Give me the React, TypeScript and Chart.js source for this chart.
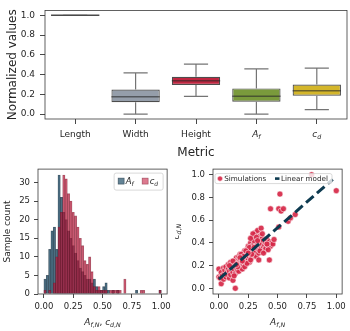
import React, { useEffect, useRef } from 'react';
import { Chart, registerables } from 'chart.js';

Chart.register(...registerables);

const FONT = '"DejaVu Sans", "Liberation Sans", Arial, sans-serif';
const TEXT = '#262626';
const FRAME = '#3a3a3a';

// ---------- Top panel: box plot of normalized metrics ----------
const METRICS = ['Length', 'Width', 'Height', 'A_f', 'c_d'];
const BOX_MIN = [1.0, 0.0, 0.18, 0.0, 0.045];
const BOX_Q1 = [1.0, 0.12, 0.295, 0.125, 0.185];
const BOX_MED = [1.0, 0.175, 0.338, 0.18, 0.237];
const BOX_Q3 = [1.0, 0.248, 0.378, 0.26, 0.3];
const BOX_MAX = [1.0, 0.418, 0.505, 0.458, 0.466];
const BOX_COLORS = ['#b5b5b5', '#959eaa', '#c02640', '#7a9a3c', '#d4b62a'];
const TOP_Y_TICKS = [0, 0.2, 0.4, 0.6, 0.8, 1.0];

// ---------- Bottom-left: histogram (bins of 0.02 from 0 to 1) ----------
const BIN_CENTERS = [
  0.01, 0.03, 0.05, 0.07, 0.09, 0.11, 0.13, 0.15, 0.17, 0.19,
  0.21, 0.23, 0.25, 0.27, 0.29, 0.31, 0.33, 0.35, 0.37, 0.39,
  0.41, 0.43, 0.45, 0.47, 0.49, 0.51, 0.53, 0.55, 0.57, 0.59,
  0.61, 0.63, 0.65, 0.67, 0.69, 0.71, 0.73, 0.75, 0.77, 0.79,
  0.81, 0.83, 0.85, 0.87, 0.89, 0.91, 0.93, 0.95, 0.97, 0.99,
];
const AF_COUNTS = [
  4, 5, 12, 17, 18, 12, 32, 26, 22, 20,
  17, 15, 13, 11, 9, 7, 6, 5, 4, 4,
  3, 4, 2, 1, 1, 2, 3, 1, 0, 1,
  0, 1, 0, 0, 0, 0, 0, 0, 0, 1,
  0, 0, 0, 0, 0, 0, 0, 0, 0, 1,
];
const CD_COUNTS = [
  1, 0, 1, 0, 3, 10, 18, 22, 32, 31,
  27, 25, 22, 21, 18, 15, 13, 9, 8, 10,
  6, 2, 1, 2, 1, 1, 1, 0, 1, 1,
  1, 1, 1, 0, 4, 0, 0, 0, 0, 0,
  0, 1, 1, 0, 0, 0, 0, 0, 0, 1,
];
const HIST_X_TICKS = [0, 0.25, 0.5, 0.75, 1.0];
const HIST_Y_TICKS = [0, 5, 10, 15, 20, 25, 30];

// ---------- Bottom-right: scatter + linear model ----------
const SIM_AF = [
  0.0, 0.0, 0.01, 0.02, 0.02, 0.03, 0.04, 0.04, 0.05, 0.05,
  0.06, 0.06, 0.07, 0.07, 0.08, 0.08, 0.09, 0.09, 0.1, 0.1,
  0.1, 0.11, 0.11, 0.12, 0.12, 0.12, 0.13, 0.13, 0.14, 0.14,
  0.14, 0.14, 0.15, 0.15, 0.15, 0.16, 0.16, 0.16, 0.17, 0.17,
  0.17, 0.18, 0.18, 0.18, 0.19, 0.19, 0.19, 0.2, 0.2, 0.2,
  0.21, 0.21, 0.21, 0.22, 0.22, 0.22, 0.23, 0.23, 0.23, 0.24,
  0.24, 0.24, 0.25, 0.25, 0.25, 0.26, 0.26, 0.26, 0.27, 0.27,
  0.27, 0.28, 0.28, 0.28, 0.29, 0.29, 0.29, 0.3, 0.3, 0.3,
  0.31, 0.31, 0.31, 0.32, 0.32, 0.32, 0.33, 0.33, 0.33, 0.34,
  0.34, 0.34, 0.35, 0.35, 0.36, 0.36, 0.36, 0.37, 0.37, 0.38,
  0.38, 0.39, 0.39, 0.4, 0.4, 0.41, 0.42, 0.43, 0.43, 0.44,
  0.44, 0.45, 0.46, 0.47, 0.51, 0.52, 0.51, 0.53, 0.55, 0.59,
  0.61, 0.65, 0.79, 1.0,
  0.13, 0.17, 0.19, 0.2, 0.22, 0.24, 0.25, 0.27, 0.28, 0.3,
  0.26, 0.23, 0.21, 0.18, 0.16, 0.12, 0.09, 0.35, 0.37, 0.29,
  0.27, 0.32, 0.38, 0.42, 0.41, 0.15, 0.2, 0.25, 0.3, 0.33,
];
const SIM_CD = [
  0.17, 0.1, 0.09, 0.04, 0.14, 0.11, 0.18, 0.08, 0.13, 0.16,
  0.1, 0.19, 0.14, 0.12, 0.17, 0.21, 0.09, 0.15, 0.12, 0.19,
  0.23, 0.16, 0.21, 0.14, 0.07, 0.19, 0.22, 0.17, 0.0, 0.25,
  0.13, 0.2, 0.18, 0.23, 0.27, 0.16, 0.21, 0.25, 0.19, 0.28,
  0.23, 0.21, 0.25, 0.3, 0.18, 0.24, 0.27, 0.22, 0.29, 0.26,
  0.2, 0.24, 0.31, 0.27, 0.23, 0.33, 0.29, 0.25, 0.21, 0.31,
  0.27, 0.34, 0.29, 0.25, 0.37, 0.32, 0.28, 0.23, 0.35, 0.3,
  0.4, 0.33, 0.27, 0.37, 0.31, 0.35, 0.45, 0.34, 0.29, 0.39,
  0.49, 0.36, 0.32, 0.41, 0.37, 0.28, 0.51, 0.35, 0.39, 0.43,
  0.31, 0.25, 0.38, 0.46, 0.53, 0.41, 0.35, 0.39, 0.44, 0.36,
  0.42, 0.38, 0.33, 0.4, 0.35, 0.43, 0.38, 0.25, 0.41, 0.7,
  0.37, 0.4, 0.39, 0.43, 0.54, 0.83, 0.7, 0.68, 0.7, 0.59,
  0.62, 0.65, 1.0, 0.86,
  0.11, 0.15, 0.3, 0.17, 0.19, 0.22, 0.33, 0.25, 0.3, 0.42,
  0.36, 0.33, 0.28, 0.27, 0.19, 0.24, 0.2, 0.33, 0.48, 0.48,
  0.44, 0.45, 0.31, 0.34, 0.39, 0.21, 0.24, 0.31, 0.36, 0.42,
];
const MODEL_X = [0.0, 0.97];
const MODEL_Y = [0.08, 0.96];
const SCATTER_TICKS_X = [0, 0.25, 0.5, 0.75, 1.0];
const SCATTER_TICKS_Y = [0, 0.2, 0.4, 0.6, 0.8, 1.0];

const BLUE_FILL = 'rgba(40,85,110,0.72)';
const BLUE_EDGE = 'rgba(20,40,55,0.7)';
const PINK_FILL = 'rgba(195,25,62,0.58)';
const PINK_EDGE = 'rgba(110,15,35,0.6)';
const DOT = 'rgba(214,40,72,0.92)';
const NAVY = '#0d3a50';

type Run = { t: string; it?: boolean; sub?: boolean };

function mathRuns(label: string): Run[] {
  if (label.indexOf('_') < 0) return [{ t: label }];
  const [b, s] = label.split('_');
  return [{ t: b, it: true }, { t: s, it: true, sub: true }];
}

function drawRich(
  ctx: CanvasRenderingContext2D,
  runs: Run[],
  x: number,
  y: number,
  size: number,
  align: 'left' | 'center',
  rotate = false,
  color = TEXT
) {
  ctx.save();
  ctx.translate(x, y);
  if (rotate) ctx.rotate(-Math.PI / 2);
  const items = runs.map((r) => {
    const s = r.sub ? size * 0.7 : size;
    const font = `${r.it ? 'italic ' : ''}${s}px ${FONT}`;
    ctx.font = font;
    return { t: r.t, font, w: ctx.measureText(r.t).width, dy: r.sub ? size * 0.22 : 0 };
  });
  const W = items.reduce((a, b) => a + b.w, 0);
  let cx = align === 'center' ? -W / 2 : 0;
  ctx.textAlign = 'left';
  ctx.textBaseline = 'alphabetic';
  ctx.fillStyle = color;
  for (const it of items) {
    ctx.font = it.font;
    ctx.fillText(it.t, cx, it.dy);
    cx += it.w;
  }
  ctx.restore();
}

const framePlugin = {
  id: 'frame',
  afterDraw(chart: any) {
    const { ctx, chartArea: a } = chart;
    ctx.save();
    ctx.strokeStyle = FRAME;
    ctx.lineWidth = 0.8;
    ctx.strokeRect(a.left, a.top, a.right - a.left, a.bottom - a.top);
    ctx.restore();
  },
};

function axisCommon(tickLen: number, size: number, pad: number) {
  return {
    grid: {
      display: true,
      drawOnChartArea: false,
      drawTicks: true,
      tickLength: tickLen,
      tickColor: '#333',
      tickWidth: 0.9,
      offset: false,
    },
    border: { display: false },
    ticks: { font: { family: FONT, size }, color: TEXT, padding: pad },
  };
}

function TopChart() {
  const ref = useRef<HTMLCanvasElement>(null);
  useEffect(() => {
    const boxPlugin = {
      id: 'boxes',
      afterDatasetsDraw(chart: any) {
        const { ctx, scales } = chart;
        const y = scales.y;
        const meta = chart.getDatasetMeta(0);
        ctx.save();
        METRICS.forEach((_, i) => {
          const bar = meta.data[i];
          const cx = bar.x;
          const half = bar.width / 2;
          const pMin = y.getPixelForValue(BOX_MIN[i]);
          const pMax = y.getPixelForValue(BOX_MAX[i]);
          const pQ1 = y.getPixelForValue(BOX_Q1[i]);
          const pQ3 = y.getPixelForValue(BOX_Q3[i]);
          const pMed = y.getPixelForValue(BOX_MED[i]);
          ctx.strokeStyle = '#747474';
          ctx.lineWidth = 1.2;
          ctx.beginPath();
          ctx.moveTo(cx, pQ3);
          ctx.lineTo(cx, pMax);
          ctx.moveTo(cx - half / 2, pMax);
          ctx.lineTo(cx + half / 2, pMax);
          ctx.moveTo(cx, pQ1);
          ctx.lineTo(cx, pMin);
          ctx.moveTo(cx - half / 2, pMin);
          ctx.lineTo(cx + half / 2, pMin);
          ctx.stroke();
          ctx.strokeStyle = i === 0 ? '#4a4a4a' : 'rgba(40,40,40,0.6)';
          ctx.lineWidth = 1.5;
          ctx.beginPath();
          ctx.moveTo(cx - half, pMed);
          ctx.lineTo(cx + half, pMed);
          ctx.stroke();
        });
        ctx.restore();
      },
      afterDraw(chart: any) {
        const { ctx, chartArea: a, scales } = chart;
        METRICS.forEach((m, i) => {
          drawRich(ctx, mathRuns(m), scales.x.getPixelForValue(i), 137, 9, 'center');
        });
        drawRich(ctx, [{ t: 'Metric' }], (a.left + a.right) / 2, 155.5, 12, 'center');
        drawRich(ctx, [{ t: 'Normalized values' }], 16, (a.top + a.bottom) / 2, 12, 'center', true);
      },
    };
    const xc = axisCommon(5, 9, 5);
    const yc = axisCommon(5, 9, 5);
    const chart = new Chart(ref.current as HTMLCanvasElement, {
      type: 'bar',
      data: {
        labels: METRICS,
        datasets: [
          {
            data: METRICS.map((_, i) => [BOX_Q1[i], BOX_Q3[i]]),
            backgroundColor: BOX_COLORS,
            borderColor: '#4d4d4d',
            borderWidth: 1.2,
            borderSkipped: false,
            barPercentage: 0.8,
            categoryPercentage: 1,
          } as any,
        ],
      },
      options: {
        animation: false,
        responsive: false,
        devicePixelRatio: 1,
        layout: { padding: { left: 0, right: 3, top: 2, bottom: 0 } },
        plugins: { legend: { display: false }, tooltip: { enabled: false } },
        scales: {
          x: {
            ...xc,
            ticks: { ...xc.ticks, callback: () => '' },
            afterFit: (s: any) => {
              s.height = 41;
            },
          },
          y: {
            ...yc,
            min: -0.05,
            max: 1.05,
            afterBuildTicks: (s: any) => {
              s.ticks = TOP_Y_TICKS.map((v) => ({ value: v }));
            },
            ticks: { ...yc.ticks, callback: (v: any) => Number(v).toFixed(1) },
            afterFit: (s: any) => {
              s.width = 45;
            },
          },
        } as any,
      },
      plugins: [boxPlugin, framePlugin],
    });
    return () => chart.destroy();
  }, []);
  return (
    <canvas ref={ref} width={350} height={160} style={{ position: 'absolute', left: 0, top: 0 }} />
  );
}

function HistChart() {
  const ref = useRef<HTMLCanvasElement>(null);
  useEffect(() => {
    const legendPlugin = {
      id: 'histLegend',
      afterDraw(chart: any) {
        const { ctx, chartArea: a } = chart;
        const bx = a.right - 53;
        const by = a.top + 4;
        ctx.save();
        ctx.fillStyle = 'rgba(255,255,255,0.85)';
        ctx.strokeStyle = '#cfcfcf';
        ctx.lineWidth = 0.8;
        ctx.beginPath();
        (ctx as any).roundRect(bx, by, 49, 17, 2);
        ctx.fill();
        ctx.stroke();
        ctx.lineWidth = 0.6;
        ctx.fillStyle = BLUE_FILL;
        ctx.strokeStyle = BLUE_EDGE;
        ctx.fillRect(bx + 4, by + 5, 6, 6);
        ctx.strokeRect(bx + 4, by + 5, 6, 6);
        ctx.fillStyle = PINK_FILL;
        ctx.strokeStyle = PINK_EDGE;
        ctx.fillRect(bx + 28, by + 5, 6, 6);
        ctx.strokeRect(bx + 28, by + 5, 6, 6);
        ctx.restore();
        drawRich(ctx, mathRuns('A_f'), bx + 11.5, by + 11, 8.5, 'left');
        drawRich(ctx, mathRuns('c_d'), bx + 35.5, by + 11, 8.5, 'left');
        drawRich(
          ctx,
          [
            { t: 'A', it: true },
            { t: 'f', it: true, sub: true },
            { t: ',', sub: true },
            { t: 'N', it: true, sub: true },
            { t: ', ' },
            { t: 'c', it: true },
            { t: 'd', it: true, sub: true },
            { t: ',', sub: true },
            { t: 'N', it: true, sub: true },
          ],
          (a.left + a.right) / 2,
          165,
          9,
          'center'
        );
        drawRich(ctx, [{ t: 'Sample count' }], 9.6, (a.top + a.bottom) / 2, 9, 'center', true);
      },
    };
    const xc = axisCommon(4, 8.5, 4);
    const yc = axisCommon(4, 8.5, 4);
    const chart = new Chart(ref.current as HTMLCanvasElement, {
      type: 'bar',
      data: {
        datasets: [
          {
            label: 'A_f',
            data: BIN_CENTERS.map((x, i) => ({ x, y: AF_COUNTS[i] || null })),
            backgroundColor: BLUE_FILL,
            borderColor: BLUE_EDGE,
            borderWidth: 0.6,
            grouped: false,
            order: 2,
            barPercentage: 1,
            categoryPercentage: 1,
          } as any,
          {
            label: 'c_d',
            data: BIN_CENTERS.map((x, i) => ({ x, y: CD_COUNTS[i] || null })),
            backgroundColor: PINK_FILL,
            borderColor: PINK_EDGE,
            borderWidth: 0.6,
            grouped: false,
            order: 1,
            barPercentage: 1,
            categoryPercentage: 1,
          } as any,
        ],
      },
      options: {
        animation: false,
        responsive: false,
        devicePixelRatio: 1,
        layout: { padding: { left: 0, right: 6, top: 9, bottom: 0 } },
        plugins: { legend: { display: false }, tooltip: { enabled: false } },
        scales: {
          x: {
            ...xc,
            type: 'linear',
            offset: false,
            min: -0.05,
            max: 1.05,
            afterBuildTicks: (s: any) => {
              s.ticks = HIST_X_TICKS.map((v) => ({ value: v }));
            },
            ticks: { ...xc.ticks, maxRotation: 0, callback: (v: any) => Number(v).toFixed(2) },
            afterFit: (s: any) => {
              s.height = 37;
            },
          },
          y: {
            ...yc,
            min: 0,
            max: 33.6,
            afterBuildTicks: (s: any) => {
              s.ticks = HIST_Y_TICKS.map((v) => ({ value: v }));
            },
            ticks: { ...yc.ticks, callback: (v: any) => String(v) },
            afterFit: (s: any) => {
              s.width = 38;
            },
          },
        } as any,
      },
      plugins: [framePlugin, legendPlugin],
    });
    return () => chart.destroy();
  }, []);
  return (
    <canvas ref={ref} width={175} height={171} style={{ position: 'absolute', left: 0, top: 160 }} />
  );
}

function ScatterChart() {
  const ref = useRef<HTMLCanvasElement>(null);
  useEffect(() => {
    const legendPlugin = {
      id: 'scLegend',
      afterDraw(chart: any) {
        const { ctx, chartArea: a } = chart;
        const bx = a.left + 2;
        const by = a.top + 4.5;
        ctx.save();
        ctx.fillStyle = 'rgba(255,255,255,0.8)';
        ctx.strokeStyle = '#cfcfcf';
        ctx.lineWidth = 0.8;
        ctx.beginPath();
        (ctx as any).roundRect(bx, by, 117, 10, 2);
        ctx.fill();
        ctx.stroke();
        ctx.fillStyle = DOT;
        ctx.strokeStyle = 'rgba(255,255,255,0.9)';
        ctx.lineWidth = 0.6;
        ctx.beginPath();
        ctx.arc(bx + 5, by + 5, 2.6, 0, Math.PI * 2);
        ctx.fill();
        ctx.stroke();
        ctx.strokeStyle = NAVY;
        ctx.lineWidth = 2.6;
        ctx.beginPath();
        ctx.moveTo(bx + 60, by + 5);
        ctx.lineTo(bx + 64.5, by + 5);
        ctx.stroke();
        ctx.restore();
        drawRich(ctx, [{ t: 'Simulations' }], bx + 9.3, by + 7.6, 7.2, 'left');
        drawRich(ctx, [{ t: 'Linear model' }], bx + 66, by + 7.6, 7.2, 'left');
        drawRich(
          ctx,
          [
            { t: 'A', it: true },
            { t: 'f', it: true, sub: true },
            { t: ',', sub: true },
            { t: 'N', it: true, sub: true },
          ],
          (a.left + a.right) / 2,
          165,
          9,
          'center'
        );
        drawRich(
          ctx,
          [
            { t: 'c', it: true },
            { t: 'd', it: true, sub: true },
            { t: ',', sub: true },
            { t: 'N', it: true, sub: true },
          ],
          3.8,
          (a.top + a.bottom) / 2,
          9,
          'center',
          true
        );
      },
    };
    const xc = axisCommon(4, 8.5, 4);
    const yc = axisCommon(4, 8.5, 4);
    const chart = new Chart(ref.current as HTMLCanvasElement, {
      type: 'scatter',
      data: {
        datasets: [
          {
            type: 'line',
            label: 'Linear model',
            data: MODEL_X.map((x, i) => ({ x, y: MODEL_Y[i] })),
            borderColor: NAVY,
            borderWidth: 3,
            borderDash: [10, 4.5],
            pointRadius: 0,
            fill: false,
            order: 0,
          } as any,
          {
            label: 'Simulations',
            data: SIM_AF.map((x, i) => ({ x, y: SIM_CD[i] })),
            pointRadius: 3,
            backgroundColor: DOT,
            borderColor: 'rgba(255,255,255,0.9)',
            borderWidth: 0.6,
            order: 1,
          } as any,
        ],
      },
      options: {
        animation: false,
        responsive: false,
        devicePixelRatio: 1,
        layout: { padding: { left: 0, right: 6, top: 9, bottom: 0 } },
        plugins: { legend: { display: false }, tooltip: { enabled: false } },
        scales: {
          x: {
            ...xc,
            type: 'linear',
            min: -0.05,
            max: 1.05,
            afterBuildTicks: (s: any) => {
              s.ticks = SCATTER_TICKS_X.map((v) => ({ value: v }));
            },
            ticks: { ...xc.ticks, maxRotation: 0, callback: (v: any) => Number(v).toFixed(2) },
            afterFit: (s: any) => {
              s.height = 37;
            },
          },
          y: {
            ...yc,
            min: -0.05,
            max: 1.05,
            afterBuildTicks: (s: any) => {
              s.ticks = SCATTER_TICKS_Y.map((v) => ({ value: v }));
            },
            ticks: { ...yc.ticks, callback: (v: any) => Number(v).toFixed(1) },
            afterFit: (s: any) => {
              s.width = 38;
            },
          },
        } as any,
      },
      plugins: [framePlugin, legendPlugin],
    });
    return () => chart.destroy();
  }, []);
  return (
    <canvas ref={ref} width={175} height={171} style={{ position: 'absolute', left: 175, top: 160 }} />
  );
}

export default function App() {
  return (
    <div style={{ position: 'absolute', left: 0, top: 0, width: 350, height: 331, background: '#fff' }}>
      <TopChart />
      <HistChart />
      <ScatterChart />
    </div>
  );
}
